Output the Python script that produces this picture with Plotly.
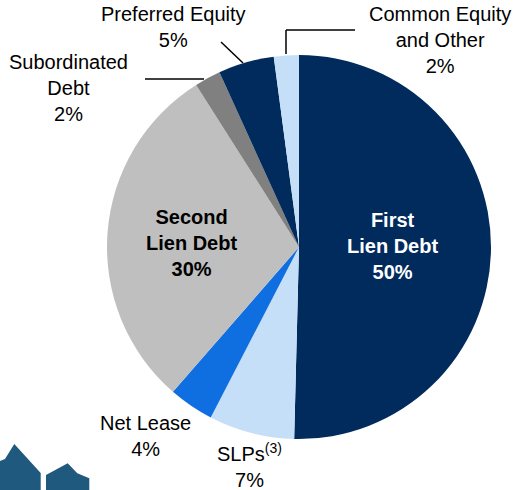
import plotly.graph_objects as go

W, H = 518, 490

# Data (percent of portfolio)
categories = ["First Lien Debt", "SLPs", "Net Lease", "Second Lien Debt",
              "Subordinated Debt", "Preferred Equity", "Common Equity and Other"]
values = [50.4, 7.2, 3.8, 29.6, 2.2, 4.7, 2.1]
label_text = ["First<br>Lien Debt", "SLPs<sup>(3)</sup>", "Net Lease", "Second<br>Lien Debt",
              "Subordinated<br>Debt", "Preferred Equity", "Common Equity<br>and Other"]
colors = ["#002B5C", "#C5DFF8", "#106FE0", "#BFBFBF", "#808080", "#002B5C", "#C5DFF8"]

# label layout (pixel positions of label centres) and styling
label_pos = [(392, 246), (249, 465), (145, 436), (191, 243), (68, 88), (173, 27), (440, 40)]
label_bold = [True, False, False, True, False, False, False]
label_color = ["white", "black", "black", "black", "black", "black", "black"]

FONT = "Arial, Liberation Sans, sans-serif"

cx, cy, r = 299, 247, 192

fig = go.Figure(go.Pie(
    labels=categories,
    values=values,
    sort=False,
    direction="clockwise",
    rotation=0,
    marker=dict(colors=colors, line=dict(width=0)),
    textinfo="none",
    hoverinfo="label+percent",
    showlegend=False,
    domain=dict(x=[(cx - r) / W, (cx + r) / W], y=[1 - (cy + r) / H, 1 - (cy - r) / H]),
))

total = sum(values)
annotations = []
for name, v, (px, py), bold, col in zip(label_text, values, label_pos, label_bold, label_color):
    pct = f"{round(v / total * 100):d}%"
    txt = f"{name}<br>{pct}"
    if bold:
        txt = f"<b>{txt}</b>"
    annotations.append(dict(
        x=px / W, y=1 - py / H, xref="paper", yref="paper",
        text=txt, showarrow=False, align="center",
        xanchor="center", yanchor="middle",
        font=dict(family=FONT, size=20, color=col),
    ))

def seg(x0, y0, x1, y1):
    return dict(type="line", xref="paper", yref="paper",
                x0=x0 / W, y0=1 - y0 / H, x1=x1 / W, y1=1 - y1 / H,
                line=dict(color="black", width=1.5))

def poly(pts, color):
    path = "M " + " L ".join(f"{x / W},{1 - y / H}" for x, y in pts) + " Z"
    return dict(type="path", xref="paper", yref="paper", path=path,
                fillcolor=color, line=dict(width=0))

shapes = [
    seg(221, 42, 243, 63),          # preferred equity leader
    seg(286, 30, 286, 54),          # common equity leader (vertical)
    seg(286, 30, 355, 30),          # common equity leader (horizontal)
    seg(145, 79, 204, 79),          # subordinated leader
    poly([(0, 461), (5, 459), (14.3, 444), (40.7, 473), (40.7, 490), (0, 490)], "#1F5A7E"),
    poly([(46, 475), (67.7, 463.3), (77.3, 473.3), (89.3, 478.3), (89.3, 490), (46, 490)], "#1F5A7E"),
]

fig.update_layout(
    width=W, height=H,
    margin=dict(l=0, r=0, t=0, b=0),
    paper_bgcolor="white",
    plot_bgcolor="white",
    annotations=annotations,
    shapes=shapes,
)

fig.write_html("out.html",
               config={"displayModeBar": False},
               post_script="document.body.style.margin='0';document.body.style.padding='0';")
